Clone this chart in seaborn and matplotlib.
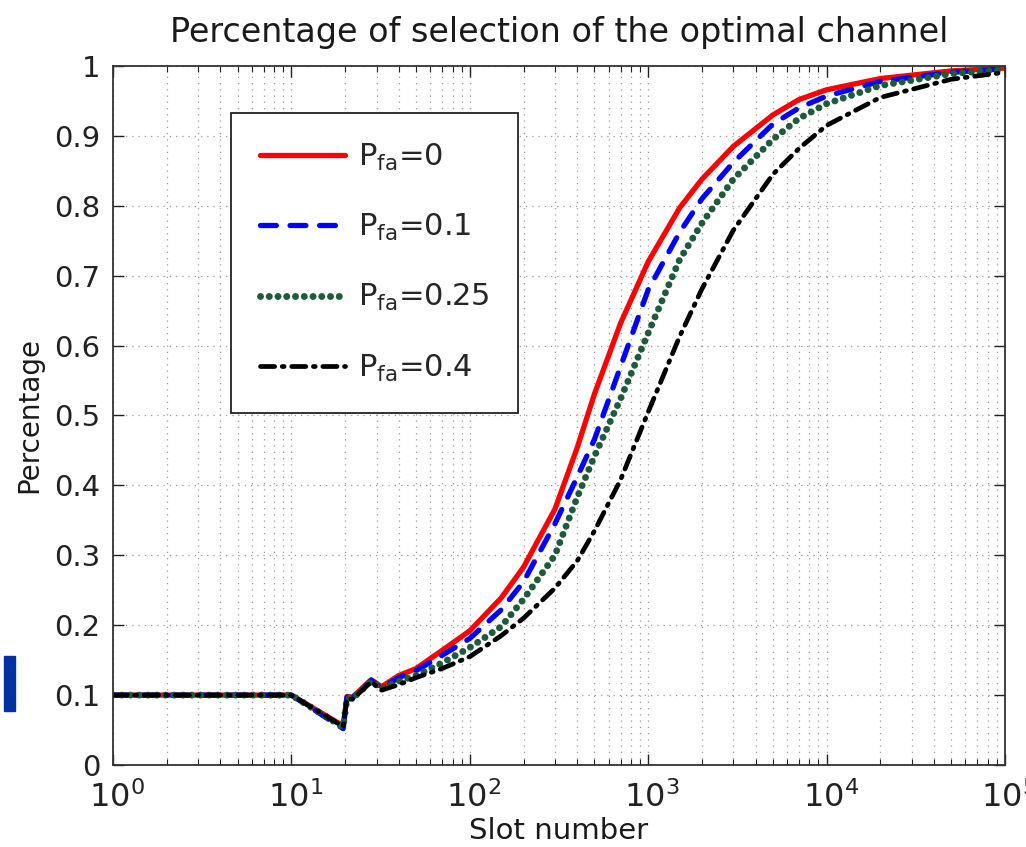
import numpy as np
import pandas as pd
import matplotlib
matplotlib.use("Agg")
import matplotlib.pyplot as plt
import seaborn as sns
from matplotlib.patches import Rectangle
from matplotlib.transforms import ScaledTranslation
from matplotlib.ticker import FixedLocator, LogLocator, NullFormatter

# ---------------- data ----------------
slots = [1, 10, 19.5, 20.5, 22, 28, 32, 40, 50, 70, 100, 150, 200, 300, 400,
         500, 700, 1000, 1500, 2000, 3000, 5000, 7000, 10000, 20000, 50000, 100000]
pfa_0 = [0.1, 0.1, 0.056, 0.098, 0.097, 0.122, 0.112, 0.128, 0.138, 0.164, 0.192,
         0.239, 0.283, 0.366, 0.454, 0.531, 0.632, 0.72, 0.797, 0.838, 0.885, 0.93,
         0.952, 0.966, 0.982, 0.993, 0.997]
pfa_01 = [0.1, 0.1, 0.052, 0.097, 0.096, 0.121, 0.110, 0.125, 0.135, 0.157, 0.181,
          0.222, 0.262, 0.345, 0.412, 0.466, 0.57, 0.68, 0.762, 0.81, 0.862, 0.917,
          0.94, 0.957, 0.978, 0.991, 0.996]
pfa_025 = [0.1, 0.1, 0.054, 0.096, 0.095, 0.120, 0.109, 0.120, 0.128, 0.146, 0.168,
           0.198, 0.237, 0.30, 0.383, 0.442, 0.524, 0.618, 0.723, 0.775, 0.838, 0.895,
           0.925, 0.946, 0.972, 0.989, 0.995]
pfa_04 = [0.1, 0.1, 0.055, 0.095, 0.094, 0.119, 0.107, 0.115, 0.125, 0.138, 0.155,
          0.185, 0.21, 0.253, 0.292, 0.335, 0.408, 0.505, 0.613, 0.681, 0.765, 0.845,
          0.882, 0.915, 0.955, 0.981, 0.991]

series_labels = [r'P$_{\mathregular{fa}}$=0', r'P$_{\mathregular{fa}}$=0.1',
                 r'P$_{\mathregular{fa}}$=0.25', r'P$_{\mathregular{fa}}$=0.4']
series_values = [pfa_0, pfa_01, pfa_025, pfa_04]

y_ticks = [0, 0.1, 0.2, 0.3, 0.4, 0.5, 0.6, 0.7, 0.8, 0.9, 1]
y_tick_labels = ['0', '0.1', '0.2', '0.3', '0.4', '0.5', '0.6', '0.7', '0.8', '0.9', '1']
x_ticks = [1, 10, 100, 1000, 10000, 100000]
x_tick_labels = [r'$10^{0}$', r'$10^{1}$', r'$10^{2}$', r'$10^{3}$', r'$10^{4}$', r'$10^{5}$']

# ---------------- styling ----------------
sns.set_theme(style="ticks")
plt.rcParams['font.family'] = ['DejaVu Sans']
plt.rcParams['mathtext.fontset'] = 'dejavusans'

colors = ['#ff0000', '#0000ff', '#1e5a3c', '#000000']
styles = ['-', (0, (3, 2.6)), (0, (0.01, 1.25)), (0, (3, 1.6, 0.4, 1.6))]
widths = [3.8, 3.8, 5.0, 3.4]

fig = plt.figure(figsize=(10.26, 8.47), dpi=100)
ax = fig.add_axes([113 / 1026, 1 - 765 / 847, (1005 - 113) / 1026, (765 - 66) / 847])

for vals, lab, c, ls, lw in zip(series_values, series_labels, colors, styles, widths):
    df = pd.DataFrame({'slot': slots, 'pct': vals})
    sns.lineplot(data=df, x='slot', y='pct', ax=ax, color=c, linestyle=ls,
                 linewidth=lw, label=lab, sort=False, estimator=None)

for line in ax.get_lines():
    line.set_dash_capstyle('round')

ax.set_xscale('log')
ax.set_xlim(1, 100000)
ax.set_ylim(0, 1)

ax.xaxis.set_major_locator(FixedLocator(x_ticks))
ax.set_xticklabels(x_tick_labels)
ax.xaxis.set_minor_locator(LogLocator(base=10, subs=np.arange(2, 10), numticks=20))
ax.xaxis.set_minor_formatter(NullFormatter())
ax.yaxis.set_major_locator(FixedLocator(y_ticks))
ax.set_yticklabels(y_tick_labels)

ax.grid(True, which='major', axis='both', color='#9a9a9a', linestyle=(0, (1, 4)), linewidth=0.9)
ax.grid(True, which='minor', axis='x', color='#9a9a9a', linestyle=(0, (1, 4)), linewidth=0.9)

ax.tick_params(which='both', direction='in', top=True, right=True, colors='#222222',
               labelcolor='#222222')
ax.tick_params(which='major', length=8, width=1.0)
ax.tick_params(axis='y', which='major', pad=9, labelsize=21)
ax.tick_params(axis='x', which='major', pad=12, labelsize=23)
ax.tick_params(which='minor', length=4, width=0.8)
for lbl in ax.get_xticklabels():
    lbl.set_transform(lbl.get_transform() + ScaledTranslation(0.04, 0, fig.dpi_scale_trans))
for sp in ax.spines.values():
    sp.set_color('#333333')
    sp.set_linewidth(1.3)

ax.set_title('Percentage of selection of the optimal channel', fontsize=24, pad=17,
             color='#1a1a1a')
ax.set_xlabel('Slot number', fontsize=21, labelpad=2, color='#1a1a1a')
ax.set_ylabel('Percentage', fontsize=20, labelpad=8, color='#1a1a1a')

leg = ax.legend(loc='upper left', bbox_to_anchor=(0.132, 0.933), borderaxespad=0,
                frameon=True, fancybox=False, edgecolor='#222222', framealpha=1,
                fontsize=22, handlelength=2.8, handletextpad=0.4, labelspacing=1.28,
                borderpad=0.95)
leg.get_frame().set_linewidth(1.3)

fig.add_artist(Rectangle((4 / 1026, 1 - 711 / 847), 11 / 1026, 55 / 847,
                         transform=fig.transFigure, color='#0033a0'))

fig.savefig('out.png', dpi=100)
